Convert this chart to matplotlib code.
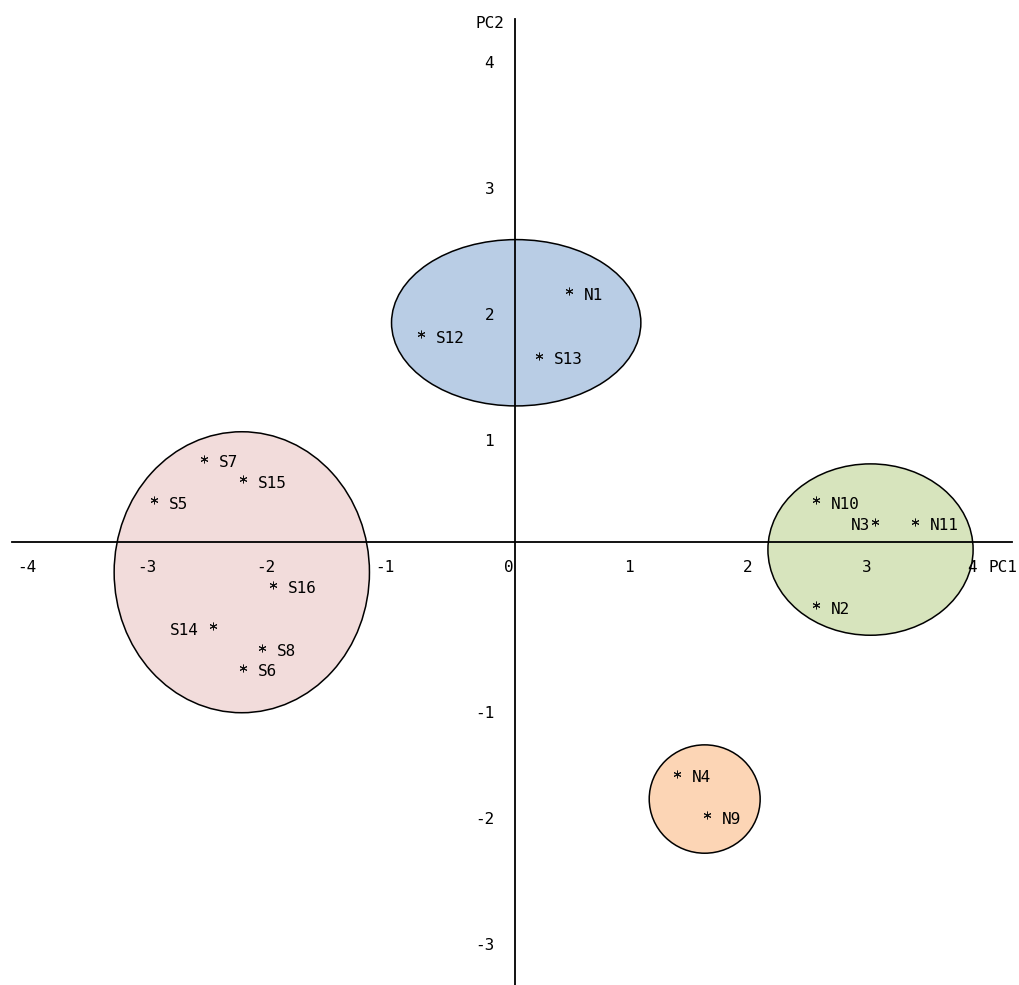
import matplotlib
matplotlib.use("Agg")
import matplotlib.pyplot as plt
from matplotlib.patches import Ellipse

plt.rcParams['font.family'] = ['DejaVu Sans Mono', 'DejaVu Sans']
plt.rcParams['font.size'] = 11.5

# ---- data ----
sample_names = ["N1", "S12", "S13", "S7", "S15", "S5", "S16", "S14", "S8", "S6",
                "N10", "N3", "N11", "N2", "N4", "N9"]
pc1 = [0.45, -0.79, 0.20, -2.61, -2.28, -3.03, -2.03, -2.53, -2.12, -2.28,
       2.52, 3.02, 3.35, 2.52, 1.36, 1.61]
pc2 = [1.99, 1.65, 1.48, 0.66, 0.50, 0.33, -0.34, -0.67, -0.84, -1.00,
       0.33, 0.16, 0.16, -0.50, -1.84, -2.17]
# label side: 'r' = label right of the star, 'l' = left with a space, 'L' = left, tight
label_side = ['r', 'r', 'r', 'r', 'r', 'r', 'r', 'l', 'r', 'r',
              'r', 'L', 'r', 'r', 'r', 'r']

# cluster ellipses (center PC1, center PC2, width, height)
cluster_cx = [0.01, -2.29, 2.98, 1.59]
cluster_cy = [1.74, -0.24, -0.06, -2.04]
cluster_w = [2.09, 2.14, 1.72, 0.93]
cluster_h = [1.32, 2.23, 1.36, 0.86]
cluster_colors = ["#B9CDE5", "#F2DCDB", "#D7E4BD", "#FCD5B5"]

xtick_vals = [-4, -3, -2, -1, 0, 1, 2, 3, 4]
ytick_vals = [4, 3, 2, 1, -1, -2, -3]

# ---- figure ----
W, H, DPI = 1019, 985, 100
fig = plt.figure(figsize=(W / DPI, H / DPI), dpi=DPI)
ax = fig.add_axes([0, 0, 1, 1])
sx, sy = 119.3, 126.0          # pixels per unit
ox, oy = 515.0, 542.0          # pixel position of the origin
ax.set_xlim(-ox / sx, (W - ox) / sx)
ax.set_ylim(-(H - oy) / sy, oy / sy)

for cx, cy, w, h, c in zip(cluster_cx, cluster_cy, cluster_w, cluster_h, cluster_colors):
    ax.add_patch(Ellipse((cx, cy), w, h, facecolor=c, edgecolor="black",
                         linewidth=1.1, zorder=1))

# axes through the origin
for s in ["top", "right"]:
    ax.spines[s].set_visible(False)
ax.spines["left"].set_position(("data", 0))
ax.spines["bottom"].set_position(("data", 0))
ax.spines["left"].set_bounds(-(H - oy) / sy, (oy - 19) / sy)
ax.spines["bottom"].set_bounds(-(ox - 12) / sx, (1012 - ox) / sx)
for s in ["left", "bottom"]:
    ax.spines[s].set_linewidth(1.3)
    ax.spines[s].set_zorder(2)
ax.set_xticks([])
ax.set_yticks([])
ax.patch.set_alpha(0)

# small layout nudges (pixels) for labels that sit off-grid in the original drawing
x_nudge = {4: -14}
y_nudge = {-1: -20}
for v in xtick_vals:
    ax.annotate(str(v), xy=(v, 0), xytext=(-1 + x_nudge.get(v, 0), -25),
                textcoords="offset pixels", ha="right", va="center", zorder=3)
for v in ytick_vals:
    ax.annotate(str(v), xy=(0, v), xytext=(-21, -26 + y_nudge.get(v, 0)),
                textcoords="offset pixels", ha="right", va="center", zorder=3)
ax.annotate("PC2", xy=(0, (oy - 19) / sy), xytext=(-25, -4), textcoords="offset pixels",
            ha="center", va="center")
ax.annotate("PC1", xy=((1012 - ox) / sx, 0), xytext=(-23, -25), textcoords="offset pixels",
            ha="left", va="center")

# samples
ax.plot(pc1, pc2, linestyle="none", marker=(6, 2, 0), markersize=5.5,
        markeredgewidth=0.7, color="#111111", zorder=4)
for name, x, y, side in zip(sample_names, pc1, pc2, label_side):
    if side == 'r':
        ax.annotate(name, xy=(x, y), xytext=(15, -8.5), textcoords="offset pixels",
                    ha="left", va="baseline", zorder=4)
    elif side == 'l':
        ax.annotate(name, xy=(x, y), xytext=(-14, -8.5), textcoords="offset pixels",
                    ha="right", va="baseline", zorder=4)
    else:
        ax.annotate(name, xy=(x, y), xytext=(-5, -8.5), textcoords="offset pixels",
                    ha="right", va="baseline", zorder=4)

fig.savefig("out.png", dpi=DPI)
